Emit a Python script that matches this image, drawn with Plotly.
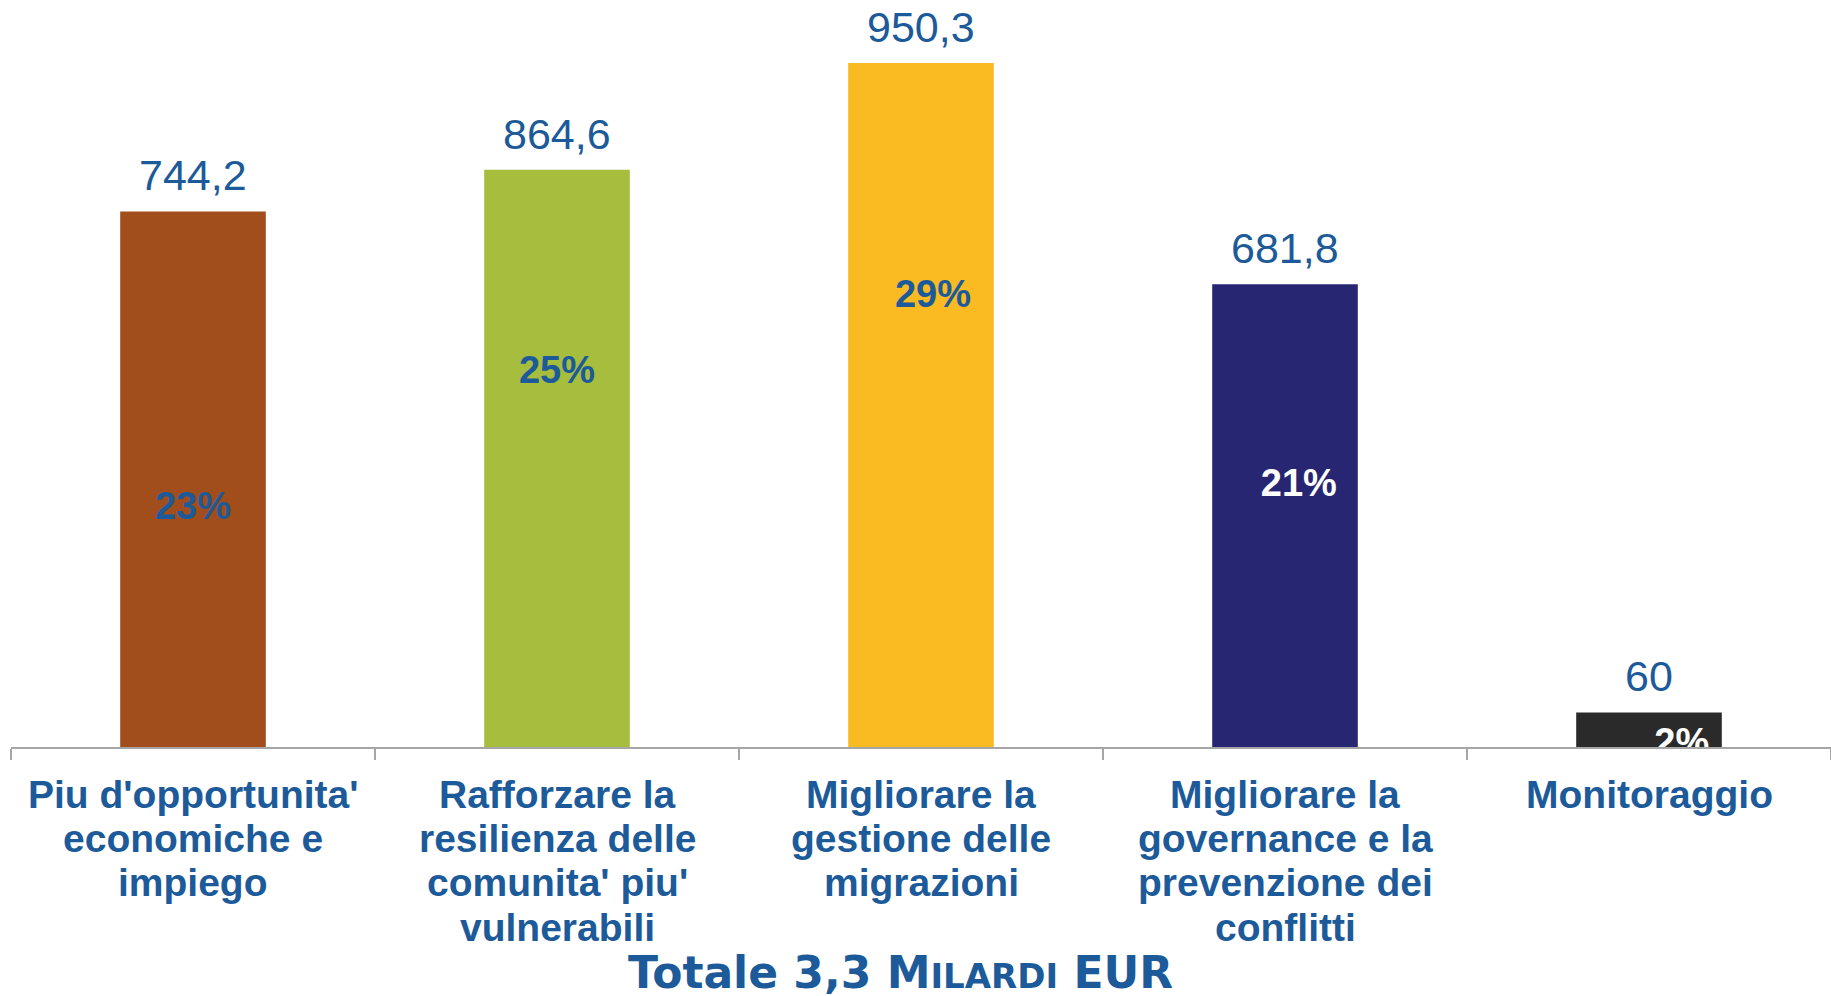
import plotly.graph_objects as go

# --- data -------------------------------------------------------------
categories = [
    "Piu d'opportunita'<br>economiche e<br>impiego",
    "Rafforzare la<br>resilienza delle<br>comunita' piu'<br>vulnerabili",
    "Migliorare la<br>gestione delle<br>migrazioni",
    "Migliorare la<br>governance e la<br>prevenzione dei<br>conflitti",
    "Monitoraggio",
]
# amounts printed above the bars (million EUR)
amounts = [744.2, 864.6, 950.3, 681.8, 60]
# bar heights as drawn in the source (not strictly proportional to the labels)
bar_heights = [744.2, 802, 950.3, 643, 48]
shares = ["23%", "25%", "29%", "21%", "2%"]
title_text = "Totale 3,3 M<span style='font-size:34px'>ILARDI</span> EUR"

# --- styling ----------------------------------------------------------
bar_colors = ["#A24E1C", "#A6BD3D", "#F9BA22", "#272672", "#2A2A2A"]
share_colors = ["#1C5A99", "#1C5A99", "#1C5A99", "#FFFFFF", "#FFFFFF"]
# where the share labels sit inside each bar (fraction of bar height, x offset in categories)
share_pos = [0.444, 0.648, 0.657, 0.564, 0.03]
share_dx = [0.0, 0.0, 0.033, 0.038, 0.09]
blue = "#1C5A99"
arial = "Liberation Sans, Arial, sans-serif"

fig = go.Figure()

fig.add_trace(go.Bar(
    x=categories,
    y=bar_heights,
    marker=dict(color=bar_colors, line=dict(width=0)),
    width=0.4,
    hoverinfo="skip",
))

# share labels on a hidden linear axis so they can be nudged and clipped
fig.add_trace(go.Scatter(
    x=[i + d for i, d in enumerate(share_dx)],
    y=[h * f for h, f in zip(bar_heights, share_pos)],
    mode="text",
    text=shares,
    textposition="middle center",
    textfont=dict(size=38, color=share_colors, family=arial, weight="bold"),
    xaxis="x2",
    cliponaxis=True,
    hoverinfo="skip",
))

annotations = []

# amount labels above the bars
for cat, h, a in zip(categories, bar_heights, amounts):
    annotations.append(dict(
        x=cat, y=h, xref="x", yref="y",
        text=f"{a:g}".replace(".", ","),
        showarrow=False, yanchor="bottom", yshift=10,
        font=dict(size=43, color=blue, family=arial),
    ))

# category labels, one line at a time for tight line spacing
for cat in categories:
    for i, line in enumerate(cat.split("<br>")):
        annotations.append(dict(
            x=cat, y=0, xref="x", yref="paper",
            text=line, showarrow=False, yanchor="middle",
            yshift=-47 - i * 44.4,
            font=dict(size=39, color=blue, family=arial, weight="bold"),
        ))

annotations.append(dict(
    x=0.489, y=-0.302, xref="paper", yref="paper",
    text=title_text, showarrow=False, yanchor="middle",
    font=dict(size=44, color=blue, family="DejaVu Sans, Verdana, sans-serif", weight="bold"),
))

fig.update_layout(
    width=1831,
    height=996,
    margin=dict(l=11, r=0, t=0, b=249),
    paper_bgcolor="white",
    plot_bgcolor="white",
    showlegend=False,
    bargap=0.6,
    annotations=annotations,
    xaxis=dict(
        type="category",
        showticklabels=False,
        showline=True,
        linecolor="#A6A6A6",
        linewidth=2,
        ticks="outside",
        tickson="boundaries",
        ticklen=11,
        tickcolor="#A6A6A6",
        tickwidth=2,
        showgrid=False,
        zeroline=False,
        range=[-0.5, 4.5],
    ),
    xaxis2=dict(
        overlaying="x",
        range=[-0.5, 4.5],
        visible=False,
    ),
    yaxis=dict(
        range=[0, 1038],
        visible=False,
        showgrid=False,
        zeroline=False,
    ),
)

fig.write_html(
    "out.html",
    config={"displayModeBar": False},
    post_script="document.body.style.margin='0';",
)
